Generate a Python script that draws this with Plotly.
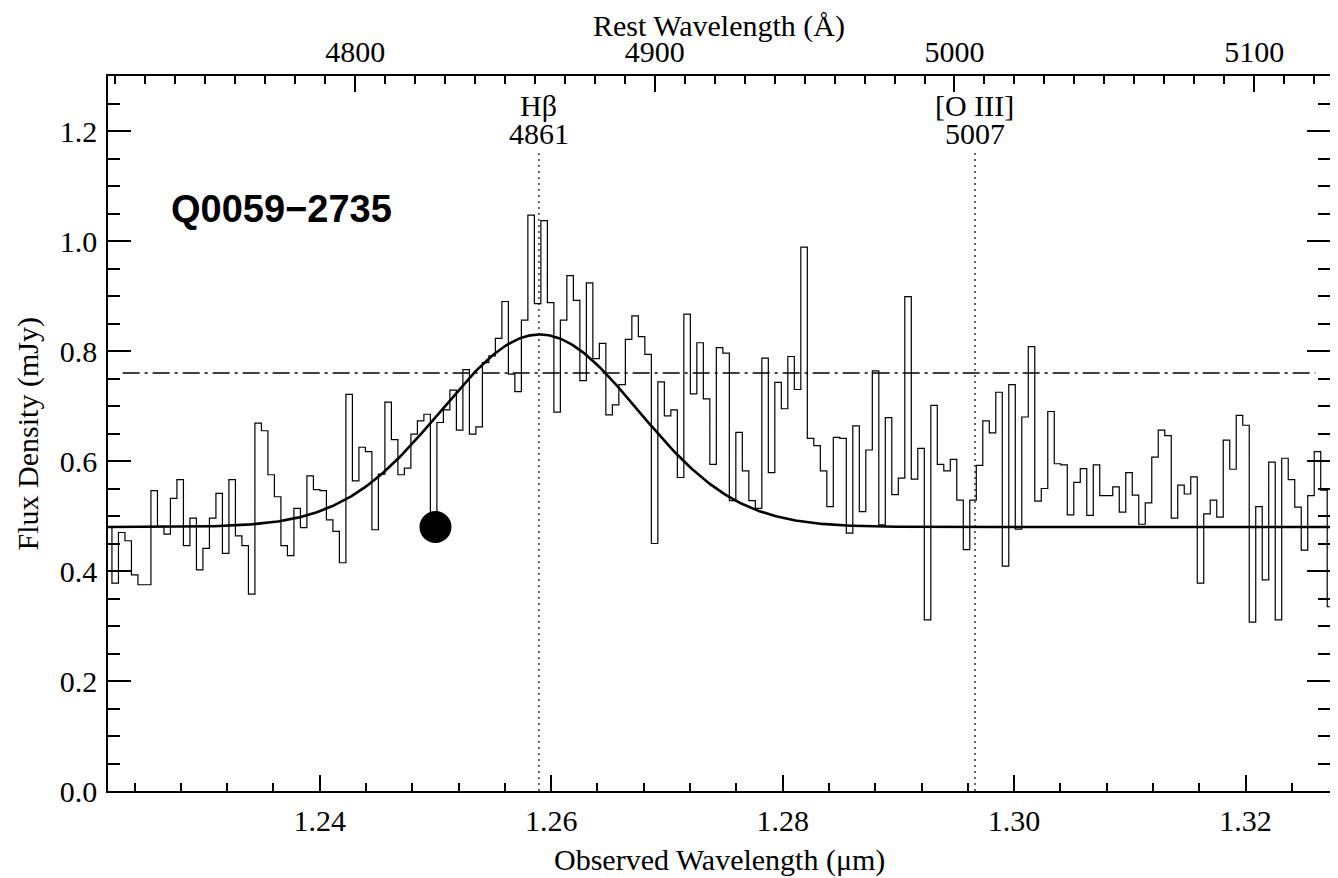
import numpy as np
import plotly.graph_objects as go

# observed-frame wavelength grid of the spectrum (micron)
wave_start = 1.22176
wave_step = 0.0005616

# flux density per pixel (mJy)
flux = [
    0.480, 0.378, 0.470, 0.455, 0.393, 0.375, 0.375, 0.546, 0.481, 0.467,
    0.532, 0.566, 0.446, 0.496, 0.402, 0.441, 0.496, 0.541, 0.432, 0.566,
    0.464, 0.446, 0.358, 0.669, 0.655, 0.575, 0.535, 0.446, 0.428, 0.514,
    0.479, 0.573, 0.548, 0.546, 0.493, 0.472, 0.415, 0.721, 0.564, 0.625,
    0.617, 0.475, 0.576, 0.707, 0.639, 0.575, 0.587, 0.649, 0.673, 0.685,
    0.480, 0.670, 0.693, 0.729, 0.656, 0.766, 0.649, 0.662, 0.779, 0.791,
    0.823, 0.890, 0.758, 0.726, 0.856, 1.047, 0.886, 1.037, 0.888, 0.689,
    0.856, 0.937, 0.892, 0.746, 0.924, 0.786, 0.814, 0.684, 0.702, 0.739,
    0.821, 0.864, 0.826, 0.794, 0.450, 0.744, 0.682, 0.693, 0.570, 0.867,
    0.722, 0.815, 0.713, 0.594, 0.806, 0.796, 0.528, 0.652, 0.582, 0.528,
    0.514, 0.787, 0.579, 0.743, 0.695, 0.790, 0.730, 0.989, 0.641, 0.628,
    0.582, 0.517, 0.643, 0.641, 0.469, 0.664, 0.508, 0.620, 0.764, 0.484,
    0.679, 0.539, 0.569, 0.899, 0.567, 0.623, 0.311, 0.701, 0.594, 0.582,
    0.603, 0.529, 0.439, 0.529, 0.592, 0.673, 0.651, 0.725, 0.409, 0.739,
    0.476, 0.680, 0.808, 0.527, 0.550, 0.690, 0.595, 0.593, 0.502, 0.561,
    0.586, 0.501, 0.593, 0.537, 0.537, 0.553, 0.507, 0.579, 0.538, 0.485,
    0.524, 0.607, 0.656, 0.646, 0.496, 0.556, 0.540, 0.571, 0.378, 0.504,
    0.529, 0.498, 0.638, 0.585, 0.683, 0.665, 0.307, 0.517, 0.384, 0.598,
    0.311, 0.605, 0.566, 0.516, 0.438, 0.537, 0.617, 0.547, 0.335,
]

# gaussian + continuum fit to H-beta
cont_level = 0.48
line_amp = 0.35
line_center = 1.2590
line_sigma = 0.0085

mean_flux = 0.76          # dash-dot level
marker_wave = [1.2500]    # filled circle
marker_flux = [0.48]

one_plus_z = 2.5897
line_names = ["Hβ", "[O III]"]
line_labels = ["4861", "5007"]
line_rest = [4861.33, 5006.84]

x_range = [1.2217, 1.3273]
y_range = [0.0, 1.3]

serif = "Liberation Serif, Times New Roman, serif"
font = dict(family=serif, size=30, color="black")

wave = wave_start + wave_step * np.arange(len(flux))
xs = np.linspace(x_range[0], x_range[1], 600)
fit = cont_level + line_amp * np.exp(-0.5 * ((xs - line_center) / line_sigma) ** 2)

fig = go.Figure()
fig.add_trace(go.Scatter(x=wave, y=flux, mode="lines",
                         line=dict(shape="hvh", color="black", width=1.2)))
fig.add_trace(go.Scatter(x=xs, y=fit, mode="lines",
                         line=dict(color="black", width=2.6)))
fig.add_trace(go.Scatter(x=marker_wave, y=marker_flux, mode="markers",
                         marker=dict(size=32, color="black")))
# carrier for the rest-frame top axis and the mirrored right axis
fig.add_trace(go.Scatter(x=[r / one_plus_z * 1e4 for r in x_range], y=y_range,
                         xaxis="x2", yaxis="y2", mode="markers",
                         marker=dict(opacity=0), hoverinfo="skip"))

for name, lab, rest in zip(line_names, line_labels, line_rest):
    xl = rest * one_plus_z * 1e-4
    fig.add_shape(type="line", xref="x", yref="y", x0=xl, x1=xl, y0=0, y1=1.165,
                  line=dict(color="black", width=1.2, dash="2px,4px"))
    fig.add_annotation(x=xl, y=1.247, xref="x", yref="y", text=name,
                       showarrow=False, font=font)
    fig.add_annotation(x=xl, y=1.196, xref="x", yref="y", text=lab,
                       showarrow=False, font=font)

fig.add_shape(type="line", xref="paper", yref="y", x0=0.012, x1=0.988,
              y0=mean_flux, y1=mean_flux,
              line=dict(color="black", width=1.3, dash="17px,5px,3px,5px"))

fig.add_annotation(x=0.05, y=0.814, xref="paper", yref="paper",
                   xanchor="left", yanchor="middle", text="<b>Q0059−2735</b>",
                   showarrow=False,
                   font=dict(family="Liberation Sans, Arial, sans-serif", size=38, color="black"))

# axis titles
fig.add_annotation(x=0.5, y=1.07, xref="paper", yref="paper", text="Rest Wavelength (Å)",
                   xanchor="center", yanchor="middle", showarrow=False, font=font)
fig.add_annotation(x=0.5, y=-0.0965, xref="paper", yref="paper",
                   text="Observed Wavelength (μm)", xanchor="center", yanchor="middle",
                   showarrow=False, font=font)
fig.add_annotation(x=-0.0655, y=0.5, xref="paper", yref="paper", text="Flux Density (mJy)",
                   textangle=-90, xanchor="center", yanchor="middle",
                   showarrow=False, font=font)

tick_common = dict(showline=True, linecolor="black", linewidth=1.5, ticks="inside",
                   tickcolor="black", tickwidth=1.5, showgrid=False, zeroline=False,
                   tickfont=font, automargin=False)

# the page body adds an 8px offset, so the figure is drawn 8px smaller
fig.update_layout(
    width=1330, height=870,
    margin=dict(l=100, r=8, t=68, b=87),
    plot_bgcolor="white", paper_bgcolor="white",
    showlegend=False, font=font,
    xaxis=dict(range=x_range, tick0=1.24, dtick=0.02, tickformat=".2f", ticklen=16,
               ticklabelstandoff=2,
               minor=dict(ticks="inside", ticklen=8, dtick=0.004, tick0=1.24,
                          tickcolor="black", tickwidth=1.5),
               **tick_common),
    xaxis2=dict(range=[r / one_plus_z * 1e4 for r in x_range], overlaying="x", side="top",
                tick0=4800, dtick=100, tickformat="d", ticklen=16,
                ticklabelstandoff=0,
                minor=dict(ticks="inside", ticklen=8, dtick=10, tick0=4800,
                           tickcolor="black", tickwidth=1.5),
                **tick_common),
    yaxis=dict(range=y_range, tick0=0, dtick=0.2, tickformat=".1f", ticklen=23,
               ticklabelstandoff=3,
               minor=dict(ticks="inside", ticklen=12, dtick=0.05, tick0=0,
                          tickcolor="black", tickwidth=1.5),
               **tick_common),
    yaxis2=dict(range=y_range, overlaying="y", side="right", tick0=0, dtick=0.2,
                ticklen=23, showticklabels=False,
                minor=dict(ticks="inside", ticklen=12, dtick=0.05, tick0=0,
                           tickcolor="black", tickwidth=1.5),
                **tick_common),
)

fig.write_html("out.html")
